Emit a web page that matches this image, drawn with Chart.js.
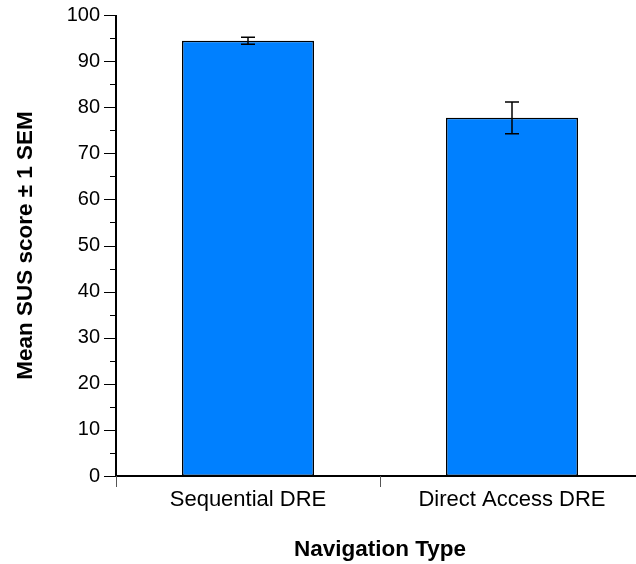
<!DOCTYPE html>
<html>
<head>
<meta charset="utf-8">
<script src="https://cdn.jsdelivr.net/npm/chart.js@4.4.0/dist/chart.umd.min.js"></script>
<style>
  html, body { margin: 0; padding: 0; background: #fff; overflow: hidden; }
  #wrap { width: 636px; height: 564px; overflow: hidden; position: relative; }
  canvas { display: block; }
</style>
</head>
<body>
<div id="wrap"><canvas id="c" width="644" height="564"></canvas></div>
<script>
const categories = ['Sequential DRE', 'Direct Access DRE'];
const meanScores = [94.4, 77.7];
const semValues = [0.75, 3.45];
const yTickValues = [0, 10, 20, 30, 40, 50, 60, 70, 80, 90, 100];
const yMinorTickValues = [5, 15, 25, 35, 45, 55, 65, 75, 85, 95];

const FONT = '"Liberation Sans", Arial, Helvetica, sans-serif';

const decorPlugin = {
  id: 'decor',
  afterDatasetsDraw(chart) {
    const ctx = chart.ctx;
    const y = chart.scales.y, x = chart.scales.x;
    const area = chart.chartArea;
    ctx.save();
    ctx.strokeStyle = '#000';
    ctx.lineWidth = 1.5;
    const meta = chart.getDatasetMeta(0);
    meta.data.forEach((bar, i) => {
      const cx = bar.x;
      const top = y.getPixelForValue(meanScores[i] + semValues[i]);
      const bot = y.getPixelForValue(meanScores[i] - semValues[i]);
      const hw = 7;
      ctx.beginPath();
      ctx.moveTo(cx, top); ctx.lineTo(cx, bot);
      ctx.moveTo(cx - hw, top); ctx.lineTo(cx + hw, top);
      ctx.moveTo(cx - hw, bot); ctx.lineTo(cx + hw, bot);
      ctx.stroke();
    });
    ctx.lineWidth = 2;
    ctx.beginPath();
    ctx.moveTo(area.left, area.top); ctx.lineTo(area.left, area.bottom + 1);
    ctx.stroke();
    ctx.beginPath();
    ctx.moveTo(area.left, area.bottom); ctx.lineTo(area.right, area.bottom);
    ctx.stroke();
    ctx.lineWidth = 1;
    yTickValues.forEach(v => {
      const py = Math.round(y.getPixelForValue(v)) + 0.5;
      ctx.beginPath(); ctx.moveTo(area.left - 12, py); ctx.lineTo(area.left, py); ctx.stroke();
    });
    yMinorTickValues.forEach(v => {
      const py = Math.round(y.getPixelForValue(v)) + 0.5;
      ctx.beginPath(); ctx.moveTo(area.left - 6, py); ctx.lineTo(area.left, py); ctx.stroke();
    });
    ctx.strokeStyle = '#555';
    for (let i = 0; i <= categories.length; i++) {
      const px = Math.round(x.getPixelForValue(i - 0.5)) + 0.5;
      ctx.beginPath(); ctx.moveTo(px, area.bottom); ctx.lineTo(px, area.bottom + 11); ctx.stroke();
    }
    ctx.restore();
  }
};

new Chart(document.getElementById('c'), {
  type: 'bar',
  data: {
    labels: categories,
    datasets: [{
      data: meanScores,
      backgroundColor: '#0080FF',
      borderColor: '#000',
      borderWidth: 1.5,
      borderSkipped: false,
      categoryPercentage: 0.5,
      barPercentage: 1.0
    }]
  },
  options: {
    responsive: false,
    animation: false,
    devicePixelRatio: 1,
    layout: { padding: { top: 15, right: 0, left: 0, bottom: 0 } },
    plugins: { legend: { display: false }, tooltip: { enabled: false } },
    scales: {
      y: {
        min: 0, max: 100,
        afterFit(s) { s.width = 116; s.paddingTop = 0; s.paddingBottom = 0; },
        border: { display: false },
        grid: { display: false, drawTicks: false },
        ticks: {
          stepSize: 10,
          padding: 16,
          color: '#000',
          font: { family: FONT, size: 20 }
        },
        title: {
          display: true,
          text: 'Mean SUS score ± 1 SEM',
          color: '#000',
          font: { family: FONT, size: 22.5, weight: 'bold' },
          padding: { top: 12, bottom: 0 }
        }
      },
      x: {
        afterFit(s) { s.height = 88; s.paddingLeft = 0; s.paddingRight = 0; },
        border: { display: false },
        grid: { display: false, drawTicks: false },
        ticks: {
          padding: 11,
          color: '#000',
          font: { family: FONT, size: 22 }
        },
        title: {
          display: true,
          text: 'Navigation Type',
          color: '#000',
          font: { family: FONT, size: 22.5, weight: 'bold' },
          padding: { top: 0, bottom: 1 }
        }
      }
    }
  },
  plugins: [decorPlugin]
});
</script>
</body>
</html>
